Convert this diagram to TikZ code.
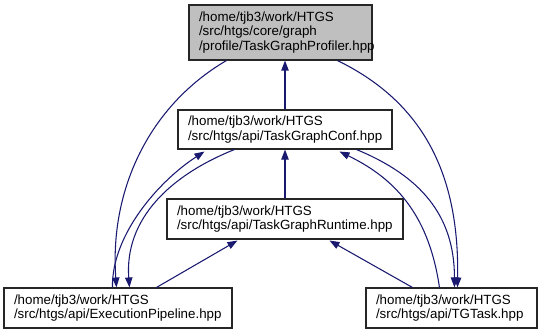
\documentclass[tikz,border=0pt]{standalone}
\usepackage{fontspec}
\setmainfont{Liberation Sans}
\usetikzlibrary{arrows.meta,calc}
\definecolor{edgeblue}{HTML}{191970}
\definecolor{boxgray}{HTML}{BFBFBF}
\begin{document}
\begin{tikzpicture}[x=0.75pt,y=-0.75pt,
  filebox/.style={draw=black!85,line width=0.8pt,fill=white,align=left,
    inner xsep=7.5pt,inner ysep=0pt,font=\fontsize{10}{11}\selectfont},
  dep/.style={draw=edgeblue,line width=0.8pt,
    -{Triangle[length=7.5pt,width=5.5pt]}}]
\useasboundingbox (0,0) rectangle (543,335);

% files
\node[filebox,fill=boxgray,text width=122.25pt,minimum height=41.25pt]
  (prof) at (280.5,32.5)
  {/home/tjb3/work/HTGS\\/src/htgs/core/graph\\/profile/TaskGraphProfiler.hpp};
\node[filebox,text width=145.5pt,minimum height=29.25pt]
  (conf) at (285,129.5)
  {/home/tjb3/work/HTGS\\/src/htgs/api/TaskGraphConf.hpp};
\node[filebox,text width=162pt,minimum height=30pt]
  (rt) at (285,219)
  {/home/tjb3/work/HTGS\\/src/htgs/api/TaskGraphRuntime.hpp};
\node[filebox,text width=156pt,minimum height=30pt]
  (pipe) at (118,308)
  {/home/tjb3/work/HTGS\\/src/htgs/api/ExecutionPipeline.hpp};
\node[filebox,text width=113.25pt,minimum height=30pt]
  (tgt) at (451.5,308)
  {/home/tjb3/work/HTGS\\/src/htgs/api/TGTask.hpp};

% include edges
\draw[dep] (conf.north) -- (conf.north |- prof.south);
\draw[dep] (rt.north) -- (rt.north |- conf.south);

\draw[dep] ($(pipe.north west)+(109,0)$) .. controls +(-1,-53) and +(-45,29) .. ($(conf.south west)+(27,2)$);
\draw[dep] ($(prof.south west)+(38,0)$) .. controls +(-77,45) and +(-7,-98) .. ($(pipe.north west)+(113,0)$);
\draw[dep] ($(conf.south west)+(57,0)$) .. controls +(-65,26) and +(-5,-68) .. ($(pipe.north west)+(126,0)$);
\draw[dep] ($(pipe.north west)+(153,0)$) -- ($(rt.south west)+(71,1)$);

\draw[dep] ($(tgt.north west)+(47,0)$) -- ($(rt.south west)+(163,1)$);
\draw[dep] ($(tgt.north west)+(74,0)$) .. controls +(-10,-68) and +(60,29) .. ($(conf.south west)+(162,2)$);
\draw[dep] ($(conf.south west)+(179,0)$) .. controls +(63,26) and +(0,-73) .. ($(tgt.north west)+(89,0)$);
\draw[dep] ($(prof.south west)+(149,0)$) .. controls +(82,40) and +(2,-118) .. ($(tgt.north west)+(92,0)$);
\end{tikzpicture}
\end{document}
